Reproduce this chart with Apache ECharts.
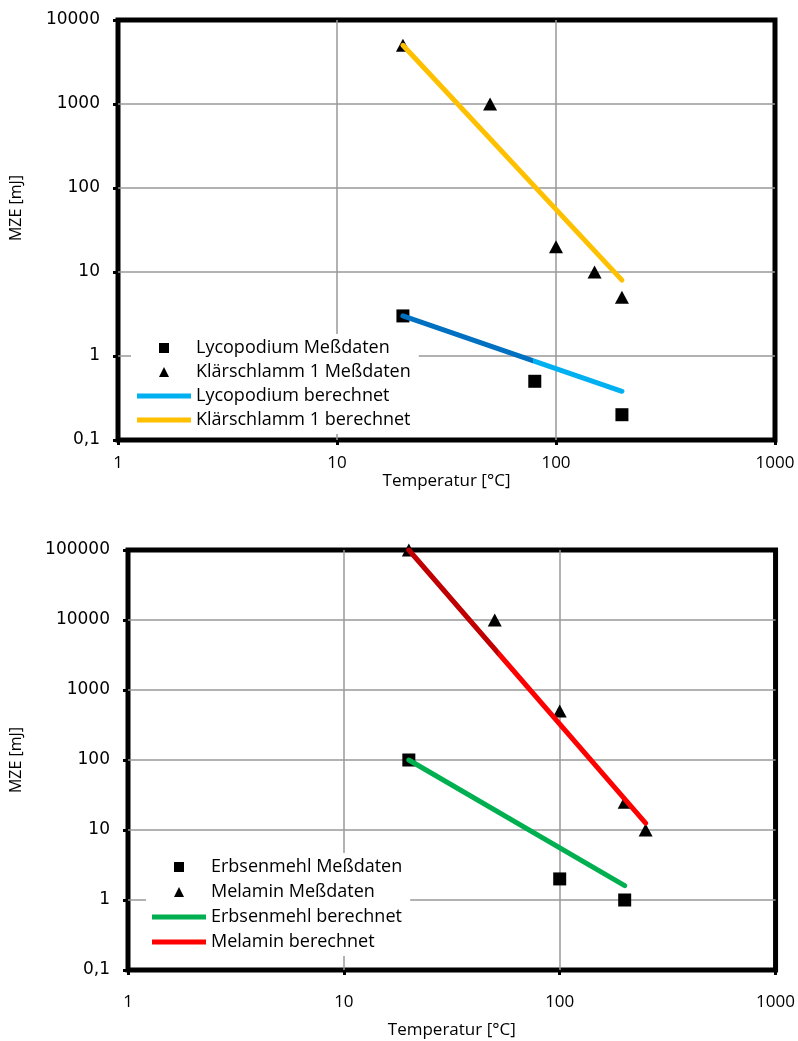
<!DOCTYPE html>
<html>
<head>
<meta charset="utf-8">
<script src="https://cdn.jsdelivr.net/npm/echarts@6/dist/echarts.min.js"></script>
<style>
  html, body { margin: 0; padding: 0; background: #fff; }
  #main { width: 798px; height: 1041px; }
</style>
</head>
<body>
<div id="main"></div>
<script>
// Diagramm oben: Lycopodium / Klärschlamm 1
const lycoT = [20, 80, 200];
const lycoMZE = [3, 0.5, 0.2];
const klaerT = [20, 50, 100, 150, 200];
const klaerMZE = [5000, 1000, 20, 10, 5];
const lycoCalcT = [20, 200];
const lycoCalcMZE = [3, 0.38];
const klaerCalcT = [20, 200];
const klaerCalcMZE = [5000, 8];

// Diagramm unten: Erbsenmehl / Melamin
const erbsT = [20, 100, 200];
const erbsMZE = [100, 2, 1];
const melT = [20, 50, 100, 200, 250];
const melMZE = [100000, 10000, 500, 25, 10];
const erbsCalcT = [20, 200];
const erbsCalcMZE = [100, 1.6];
const melCalcT = [20, 250];
const melCalcMZE = [100000, 12.5];

const names = [
  ['Lycopodium Meßdaten', 'Klärschlamm 1 Meßdaten', 'Lycopodium berechnet', 'Klärschlamm 1 berechnet'],
  ['Erbsenmehl Meßdaten', 'Melamin Meßdaten', 'Erbsenmehl berechnet', 'Melamin berechnet']
];

function pairs(xs, ys) {
  return xs.map(function (x, i) { return [x, ys[i]]; });
}

function grad(c1, c2, at) {
  return new echarts.graphic.LinearGradient(0, 0, 1, 0, [
    { offset: 0, color: c1 }, { offset: at, color: c1 },
    { offset: at, color: c2 }, { offset: 1, color: c2 }
  ]);
}

const sq = 'path://M0,0H10V10H0Z';
const tri = 'path://M5,0L10,10H0Z';
const bar = 'path://M0,0H54V5H0Z';

function xAxis(idx) {
  return {
    type: 'log', logBase: 10, gridIndex: idx, min: 1, max: 1000, splitNumber: 3,
    name: 'Temperatur [°C]', nameLocation: 'middle', nameGap: idx ? 52 : 30,
    nameTextStyle: { fontFamily: 'Open Sans', fontSize: 17, color: '#000' },
    axisLine: { show: false },
    axisTick: { show: true, length: 5, lineStyle: { color: '#000', width: 3 } },
    minorTick: { show: false },
    axisLabel: {
      fontFamily: 'Open Sans', fontSize: 17, color: '#000', margin: idx ? 24 : 15,
      formatter: function (v) { return String(v); }
    },
    splitLine: { show: true, showMinLine: false, showMaxLine: false, lineStyle: { color: '#999', width: 1.5 } }
  };
}

function yAxis(idx, min, max, n) {
  return {
    type: 'log', logBase: 10, gridIndex: idx, min: min, max: max, splitNumber: n,
    name: 'MZE [mJ]', nameLocation: 'middle', nameGap: idx ? 104 : 94, nameRotate: 90,
    nameTextStyle: {
      fontFamily: 'Open Sans', fontSize: 16, color: '#000',
      padding: idx ? 0 : [0, 0, 0, 44]
    },
    axisLine: { show: false },
    axisTick: { show: true, length: 5, lineStyle: { color: '#000', width: 3 } },
    axisLabel: {
      fontFamily: 'DejaVu Sans', fontSize: 17, color: '#000', margin: 18,
      formatter: function (v) { return String(v).replace('.', ','); }
    },
    splitLine: { show: true, showMinLine: false, showMaxLine: false, lineStyle: { color: '#999', width: 1.5 } }
  };
}

function legend(idx, left, top, gap) {
  const icons = [sq, tri, bar, bar];
  return {
    orient: 'vertical', left: left, top: top,
    backgroundColor: '#fff', padding: [4, 8, 4, 6],
    itemWidth: 54, itemHeight: 10, itemGap: gap,
    textStyle: { fontFamily: 'Open Sans', fontSize: 18, lineHeight: 20, color: '#000' },
    data: names[idx].map(function (n, i) { return { name: n, icon: icons[i] }; })
  };
}

function scatter(name, idx, data, sym) {
  return {
    name: name, type: 'scatter', xAxisIndex: idx, yAxisIndex: idx,
    symbol: sym, symbolSize: sym === 'triangle' ? [14, 13] : 13,
    itemStyle: { color: '#000', opacity: 1 }, data: data
  };
}

function line(name, idx, data, color, legendColor) {
  return {
    name: name, type: 'line', xAxisIndex: idx, yAxisIndex: idx,
    symbol: 'none', data: data,
    itemStyle: { color: legendColor },
    lineStyle: { color: color, width: 5, cap: 'round' }
  };
}

const chart = echarts.init(document.getElementById('main'), null, { renderer: 'canvas' });

chart.setOption({
  animation: false,
  backgroundColor: '#fff',
  grid: [
    { left: 115, top: 20, width: 660, height: 420, show: true, borderColor: '#000', borderWidth: 5 },
    { left: 125, top: 550, width: 651, height: 420, show: true, borderColor: '#000', borderWidth: 5 }
  ],
  legend: [legend(0, 131, 334, 4), legend(1, 146, 853, 5)],
  xAxis: [xAxis(0), xAxis(1)],
  yAxis: [yAxis(0, 0.1, 10000, 5), yAxis(1, 0.1, 100000, 6)],
  series: [
    scatter(names[0][0], 0, pairs(lycoT, lycoMZE), 'rect'),
    scatter(names[0][1], 0, pairs(klaerT, klaerMZE), 'triangle'),
    line(names[0][2], 0, pairs(lycoCalcT, lycoCalcMZE), grad('#0070C0', '#00B0F0', 0.59), '#00B0F0'),
    line(names[0][3], 0, pairs(klaerCalcT, klaerCalcMZE), '#FFC000', '#FFC000'),
    scatter(names[1][0], 1, pairs(erbsT, erbsMZE), 'rect'),
    scatter(names[1][1], 1, pairs(melT, melMZE), 'triangle'),
    line(names[1][2], 1, pairs(erbsCalcT, erbsCalcMZE), '#00B050', '#00B050'),
    line(names[1][3], 1, pairs(melCalcT, melCalcMZE), grad('#C00000', '#FF0000', 0.38), '#FF0000')
  ]
});
</script>
</body>
</html>
